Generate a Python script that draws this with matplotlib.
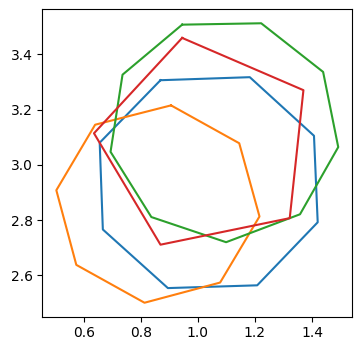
import matplotlib
matplotlib.use('Agg')
import matplotlib.pyplot as plt

# Polygon vertices (closed loops)
blue_x = [0.869, 1.182, 1.407, 1.420, 1.208, 0.895, 0.667, 0.656]
blue_y = [3.306, 3.317, 3.105, 2.792, 2.564, 2.554, 2.766, 3.080]

orange_x = [0.906, 1.145, 1.216, 1.078, 0.813, 0.574, 0.504, 0.640]
orange_y = [3.215, 3.078, 2.813, 2.574, 2.501, 2.638, 2.908, 3.145]

green_x = [0.945, 1.222, 1.439, 1.492, 1.358, 1.099, 0.837, 0.694, 0.736]
green_y = [3.507, 3.512, 3.336, 3.064, 2.821, 2.720, 2.811, 3.047, 3.326]

red_x = [0.945, 1.370, 1.322, 0.869, 0.636]
red_y = [3.459, 3.270, 2.807, 2.711, 3.114]

polygons = [(blue_x, blue_y), (orange_x, orange_y), (green_x, green_y), (red_x, red_y)]

fig, ax = plt.subplots(figsize=(3.61, 3.51), dpi=100)
fig.subplots_adjust(left=0.117, right=0.976, top=0.9735, bottom=0.0977)

for xs, ys in polygons:
    # close the loop by repeating the first vertex
    ax.plot(xs + xs[:1], ys + ys[:1])

ax.set_xticks([0.6, 0.8, 1.0, 1.2, 1.4])
ax.set_yticks([2.6, 2.8, 3.0, 3.2, 3.4])

fig.savefig('out.png', dpi=100)
plt.close(fig)
